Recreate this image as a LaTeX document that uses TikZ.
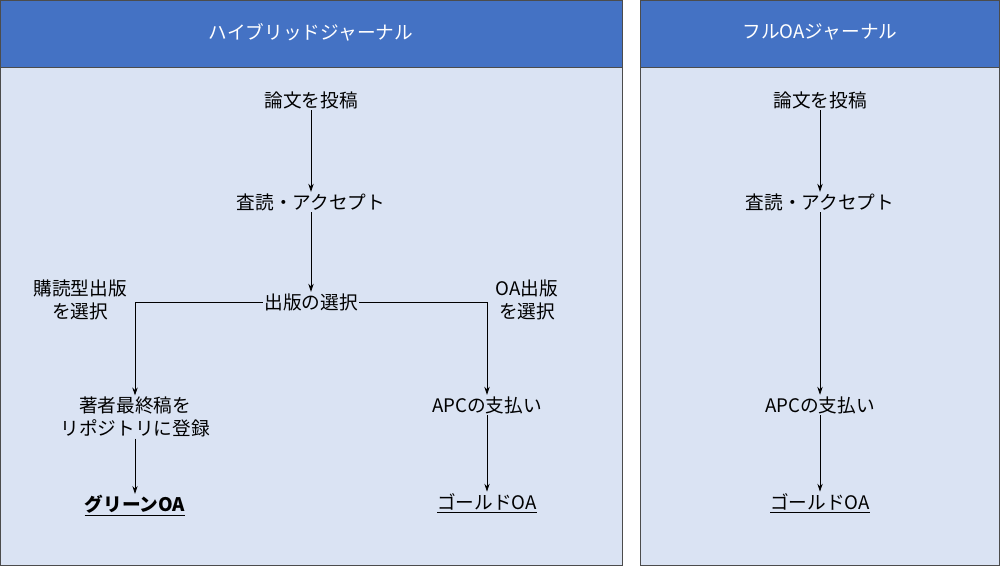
\documentclass[tikz,border=0pt]{standalone}
\usepackage{fontspec}
\setmainfont{Noto Sans CJK JP}
\usetikzlibrary{arrows.meta}
\definecolor{hdr}{HTML}{4472C4}
\definecolor{bdy}{HTML}{DAE3F3}
\begin{document}
\begin{tikzpicture}[x=0.75pt,y=-0.75pt,
  t/.style={font=\fontsize{14}{17}\selectfont,align=center,inner sep=1pt},
  h/.style={font=\fontsize{14}{17}\selectfont,text=white},
  a/.style={-{Stealth[length=6pt,width=4pt]},line width=0.6pt},
  l/.style={line width=0.6pt}]
\useasboundingbox (0,0) rectangle (1000,566);
\fill[white] (0,0) rectangle (1000,566);
\draw[fill=bdy,draw=black!70] (0.5,0.5) rectangle (622,565.5);
\draw[fill=hdr,draw=black!70] (0.5,0.5) rectangle (622,67);
\draw[fill=bdy,draw=black!70] (640,0.5) rectangle (999.5,565.5);
\draw[fill=hdr,draw=black!70] (640,0.5) rectangle (999.5,67);
\node[h] (h1) at (311,32) {ハイブリッドジャーナル};
\node[h] (h2) at (820,32) {フルOAジャーナル};
% left
\node[t] (s1) at (311,100) {論文を投稿};
\node[t] (r1) at (311,202) {査読・アクセプト};
\node[t] (c1) at (311,302) {出版の選択};
\node[t] (sub) at (80,300) {購読型出版\\を選択};
\node[t] (oa) at (527,300) {OA出版\\を選択};
\node[t] (g1) at (135,417) {著者最終稿を\\リポジトリに登録};
\node[t,font=\fontsize{14}{17}\selectfont\bfseries] (gr) at (135,506) {\underline{グリーンOA}};
\node[t] (p1) at (487,405) {APCの支払い};
\node[t] (go1) at (487,503) {\underline{ゴールドOA}};
\draw[a] (s1) -- (r1);
\draw[a] (r1) -- (c1);
\draw[a] (c1.west) -| (g1.north);
\draw[a] (c1.east) -| (p1.north);
\draw[a] (g1) -- (gr);
\draw[a] (p1) -- (go1);
% right
\node[t] (s2) at (820,100) {論文を投稿};
\node[t] (r2) at (820,202) {査読・アクセプト};
\node[t] (p2) at (820,405) {APCの支払い};
\node[t] (go2) at (820,503) {\underline{ゴールドOA}};
\draw[a] (s2) -- (r2);
\draw[a] (r2) -- (p2);
\draw[a] (p2) -- (go2);
\end{tikzpicture}
\end{document}
